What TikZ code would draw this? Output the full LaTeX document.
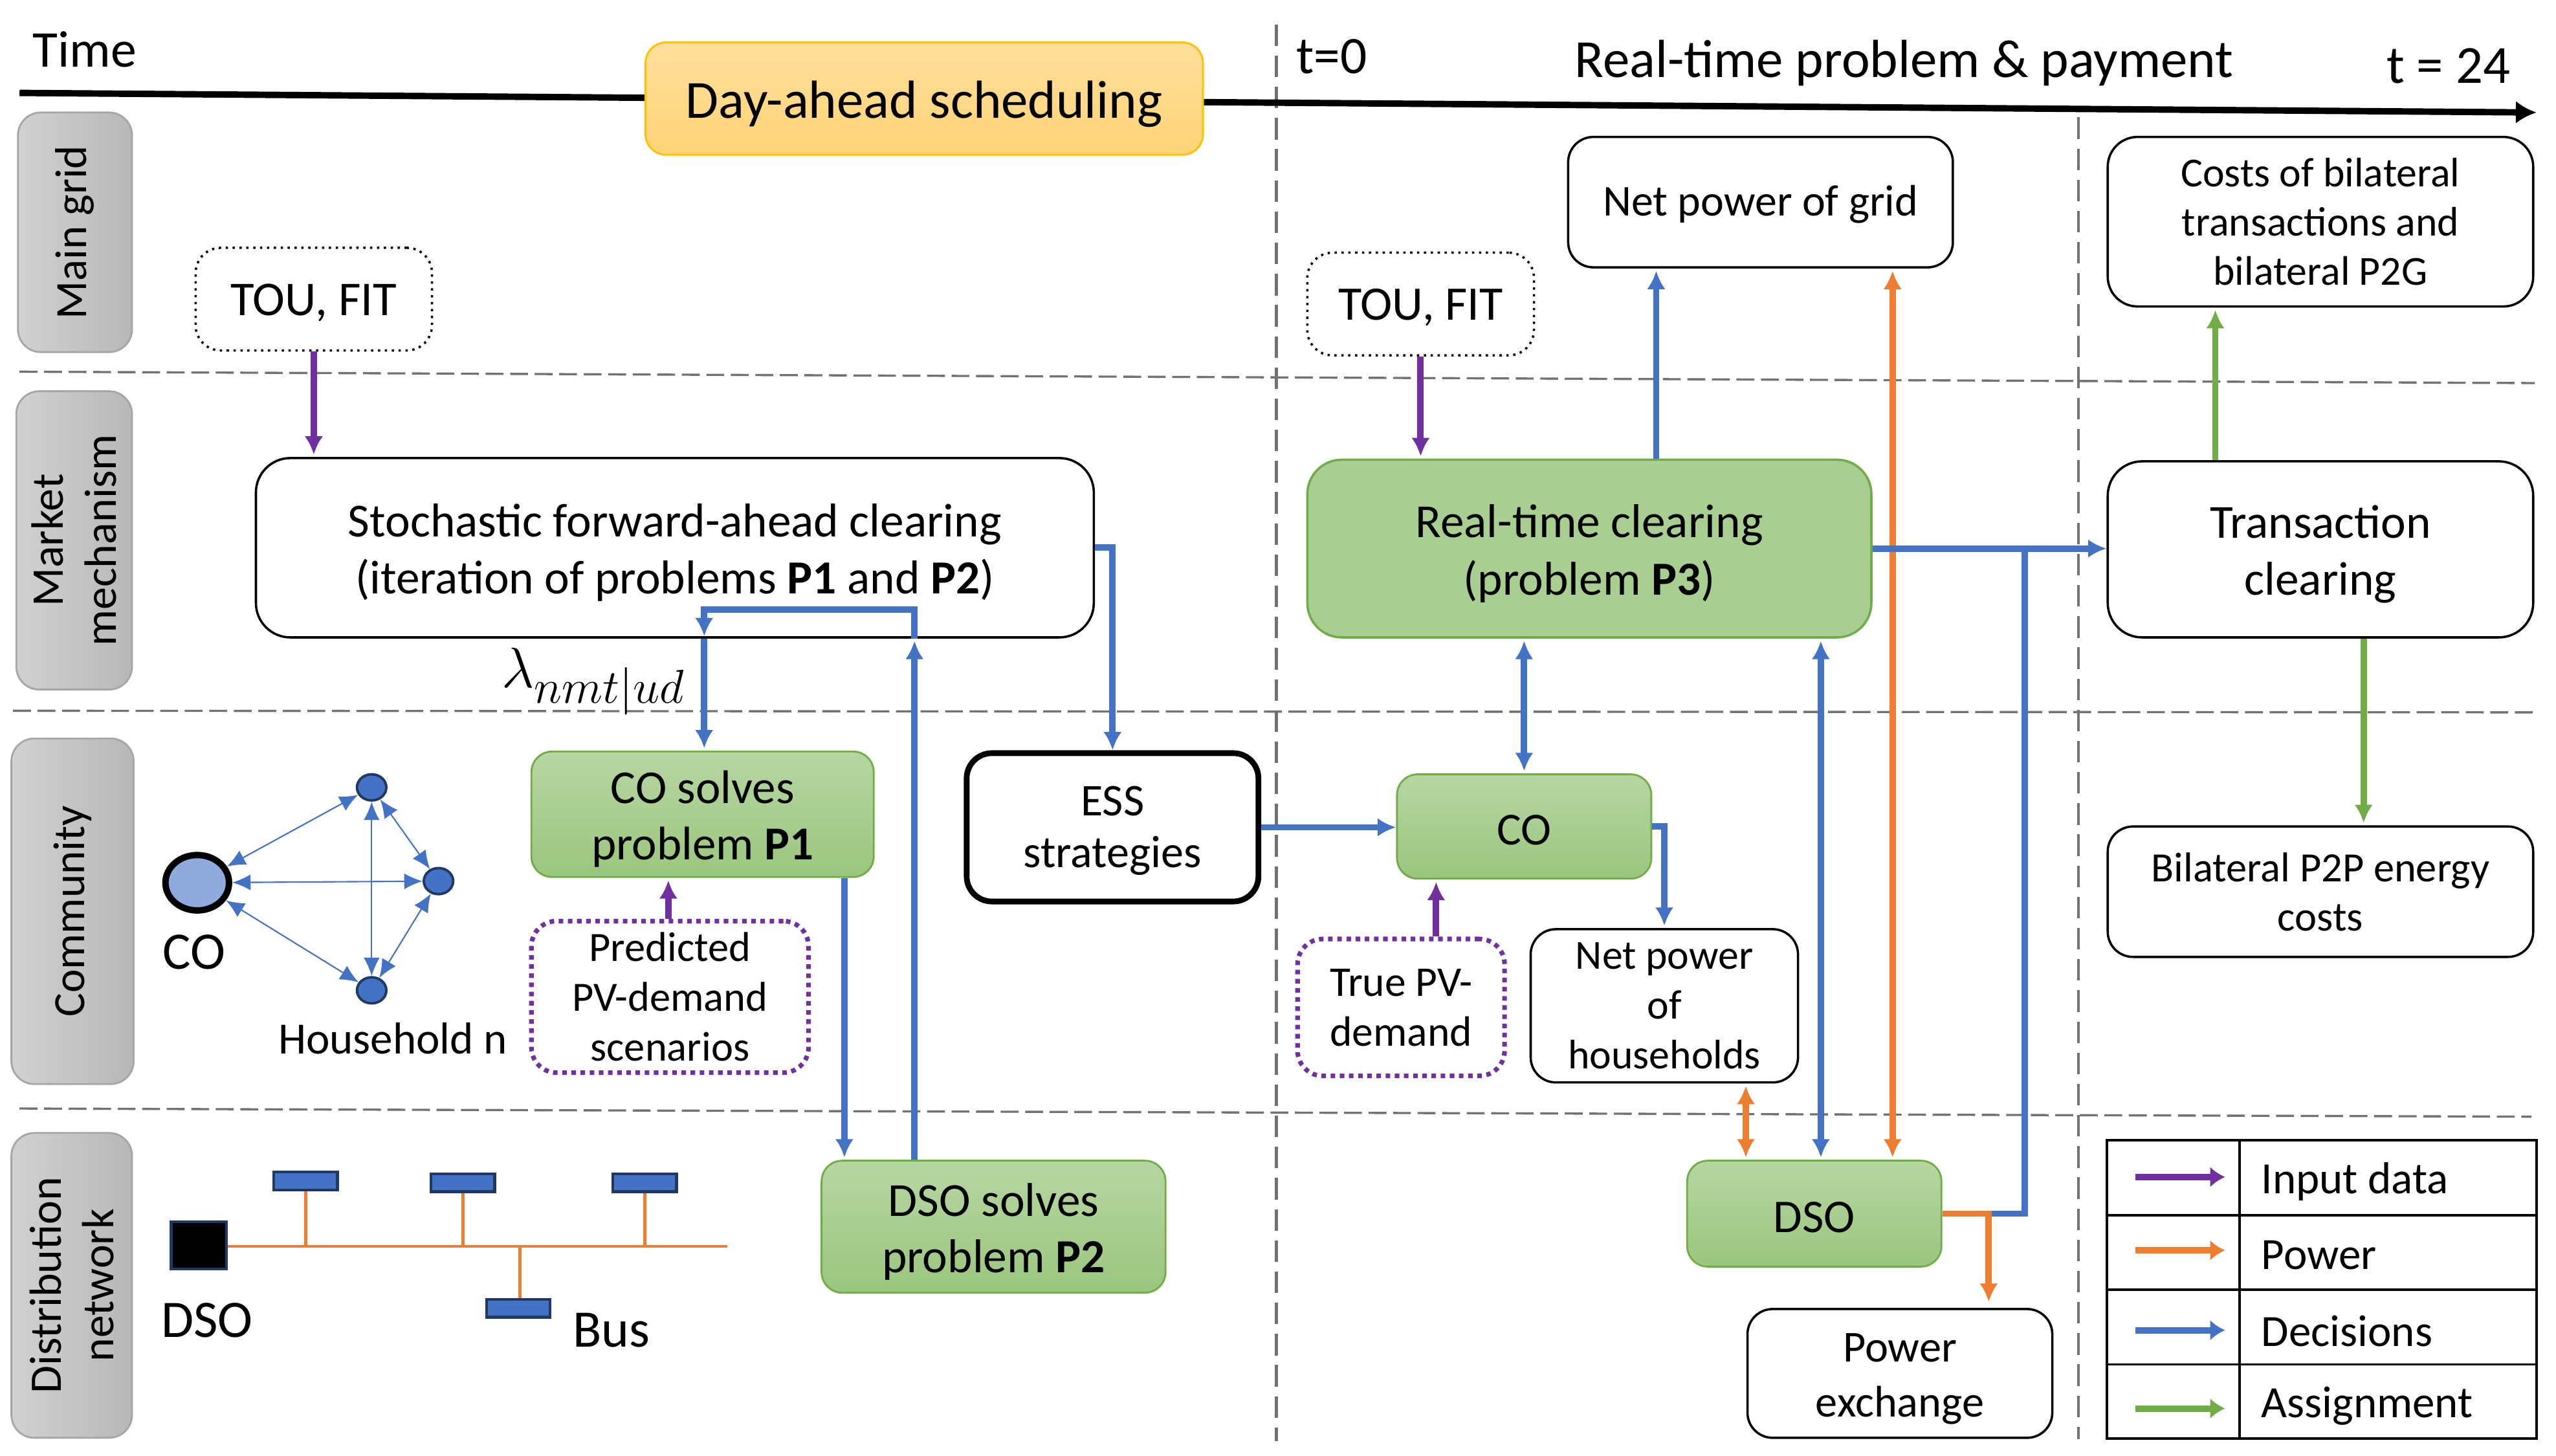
\documentclass[tikz,border=0pt]{standalone}
\usepackage{fontspec}
\usepackage{amsmath}
\setmainfont{Carlito}
\usetikzlibrary{arrows.meta}
\usetikzlibrary{shapes.geometric}
\definecolor{inpurple}{HTML}{7030A0}
\definecolor{poworange}{HTML}{ED7D31}
\definecolor{decblue}{HTML}{4472C4}
\definecolor{asgreen}{HTML}{70AD47}
\definecolor{darkblue}{HTML}{1F3864}
\definecolor{dashgray}{HTML}{767171}
\newcommand{\tp}{\rule{0pt}{0.9em}}
\newcommand{\tq}{\rule{0pt}{0.8em}}
\colorlet{greenT}{asgreen!50!white}
\colorlet{greenB}{asgreen!70!white}
\tikzset{
  wh/.style 2 args={minimum width=#1*0.025cm, minimum height=#2*0.025cm, inner sep=0pt},
  fnt/.style 2 args={font=\fontsize{#1}{#2}\selectfont, align=center},
  plainbox/.style={draw, line width=1pt, rounded corners=11pt, fill=white},
  greenbox/.style={draw=asgreen, line width=0.8pt, rounded corners=9pt, top color=greenT, bottom color=greenB},
  sidebox/.style={draw=black!35, line width=0.8pt, rounded corners=10pt, left color=black!18, right color=black!28, rotate=90},
  dashh/.style={draw=dashgray, line width=0.95pt, dash pattern=on 7.8pt off 2.9pt},
  dashv/.style={draw=dashgray, line width=1.2pt, dash pattern=on 9.4pt off 4.2pt},
  arr/.style={line width=#1, -{Latex[length=8pt,width=8pt]}, shorten >=1pt},
  arr/.default=2.8pt,
  biarr/.style={line width=2.8pt, {Latex[length=8pt,width=8pt]}-{Latex[length=8pt,width=8pt]}, shorten >=1pt, shorten <=1pt},
  bus/.style={draw=darkblue, line width=1.2pt, fill=decblue, wh={39}{11}},
  house/.style={draw=darkblue, line width=1.1pt, fill=decblue, ellipse, wh={18}{16}},
  thinarr/.style={draw=decblue, line width=0.6pt, {Latex[length=8pt,width=7pt]}-{Latex[length=8pt,width=7pt]}},
}
\begin{document}
\begin{tikzpicture}[x=0.025cm, y=-0.025cm]
  \useasboundingbox (0,0) rectangle (1568,892.8);

  \draw[dashh] (12,228) -- (1555,235);
  \draw[dashh] (8,436) -- (1555,437);
  \draw[dashh] (12,680) -- (1553,685);
  \draw[dashv] (783,15) -- (783,884);
  \draw[dashv] (1275,72) -- (1275,883);

  \coordinate (tstart) at (12,57);
  \coordinate (tend) at (1556,69);
  \draw[line width=2.8pt, -{Latex[length=9pt,width=10pt]}] (tstart) -- (tend);

  \node[fnt={22.5}{26}] (timelab) at (52,30.5) {Time};
  \node[fnt={23}{26}] (tzero) at (817,34.5) {t=0};
  \node[fnt={23.4}{27}] (rtlab) at (1168,38.5) {Real-time problem \& payment};
  \node[fnt={23.4}{27}] (tend24) at (1502,40.5) {t = 24};

  \node[draw={rgb,255:red,255;green,192;blue,0}, line width=0.8pt, rounded corners=9pt, top color={rgb,255:red,255;green,223;blue,156}, bottom color={rgb,255:red,255;green,212;blue,120}, wh={342}{69}, fnt={23.4}{27}] (dayahead) at (567,60.5) {\tp Day-ahead scheduling};

  \node[sidebox, wh={147}{70}, fnt={19.5}{23}] (sgrid) at (46,142.5) {Main grid};
  \node[sidebox, wh={183}{71}, fnt={19.8}{23}] (smarket) at (45.5,331.5) {Market\\mechanism};
  \node[sidebox, wh={212}{75}, fnt={19.5}{23}] (scomm) at (44.5,559) {Community};
  \node[sidebox, wh={187}{74}, fnt={19.7}{23}] (sdist) at (44,788.5) {Distribution\\network};

  \node[plainbox, dotted, wh={145}{63}, fnt={21.2}{24}] (toua) at (192.5,183.5) {\tq TOU, FIT};
  \node[plainbox, dotted, wh={139}{63}, fnt={21}{24}] (toub) at (871.5,186.5) {\tq TOU, FIT};
  \node[plainbox, rounded corners=15pt, wh={514}{110}, fnt={20.7}{25}] (stoch) at (414,336) {\tp Stochastic forward-ahead clearing\\(iteration of problems \textbf{P1} and \textbf{P2})};
  \node[plainbox, fill=asgreen!60!white, draw=asgreen, rounded corners=15pt, wh={346}{109}, fnt={20.7}{25}] (rtclear) at (975,336.5) {\tp Real-time clearing\\(problem \textbf{P3})};
  \node[plainbox, wh={236}{80}, fnt={19.2}{24}] (npgrid) at (1080,124) {\tq Net power of grid};
  \node[plainbox, rounded corners=13pt, wh={261}{104}, fnt={18}{21.5}] (costs) at (1423.5,136) {Costs of bilateral\\transactions and\\bilateral P2G};
  \node[plainbox, rounded corners=15pt, wh={261}{108}, fnt={20.7}{25}] (trans) at (1423.5,337) {\tp Transaction\\clearing};
  \node[plainbox, wh={261}{80}, fnt={18.2}{21.5}] (bilat) at (1423.5,547) {Bilateral P2P energy\\costs};

  \node[greenbox, wh={210}{77}, fnt={20.6}{24.5}] (cosolve) at (431,499.5) {\tp CO solves\\problem \textbf{P1}};
  \node[plainbox, draw=inpurple, line width=2pt, dotted, wh={170}{93}, fnt={18.2}{21.8}] (predict) at (411,611.5) {Predicted\\PV-demand\\scenarios};
  \node[plainbox, line width=2.5pt, wh={179}{91}, fnt={19.8}{22.5}] (ess) at (682.5,507.5) {\tq ESS\\strategies};
  \node[greenbox, wh={156}{64}, fnt={20}{24}] (cobox) at (935,507) {\tq CO};
  \node[plainbox, draw=inpurple, line width=2pt, dotted, wh={127}{84}, fnt={18.5}{21.8}] (truepv) at (859.5,618) {True PV-\\demand};
  \node[plainbox, wh={164}{94}, fnt={18}{21.8}] (nphouse) at (1021,617) {Net power\\of\\households};
  \node[greenbox, wh={156}{65}, fnt={20.5}{24}] (dsobox) at (1113,744.5) {\tq DSO};
  \node[greenbox, wh={211}{81}, fnt={20.7}{24.5}] (dsosolve) at (609.5,752.5) {\tp DSO solves\\problem \textbf{P2}};
  \node[plainbox, wh={187}{79}, fnt={19.3}{24}] (pexch) at (1165.5,842.5) {\tp Power\\exchange};

  \node[fnt={27.5}{30}] (lam) at (364,418) {$\lambda_{nmt|ud}$};

  \draw[arr, inpurple] (toua.south) -- (toua.south |- stoch.north);
  \draw[arr, inpurple] (toub.south) -- (toub.south |- rtclear.north);
  \draw[arr, inpurple] (predict.north -| 410,0) -- (cosolve.south -| 410,0);
  \draw[arr, inpurple] (truepv.north -| 881,0) -- (cobox.south -| 881,0);

  \draw[arr, decblue] (rtclear.north -| 1016,0) -- (npgrid.south -| 1016,0);
  \draw[biarr, poworange] (dsobox.north -| 1161,0) -- (npgrid.south -| 1161,0);
  \draw[biarr, decblue] (dsobox.north -| 1117,0) -- (rtclear.south -| 1117,0);
  \draw[biarr, decblue] (rtclear.south -| 935,0) -- (cobox.north);
  \draw[biarr, poworange] (nphouse.south -| 1071,0) -- (dsobox.north -| 1071,0);
  \draw[decblue, line width=2.8pt] (dsobox.east) -- (1242,744.5) -- (1242,336);
  \draw[arr, decblue, shorten >=0pt] (rtclear.east) -- (trans.west |- rtclear.east);
  \draw[arr, poworange] (dsobox.east) -| (1220,800);
  \draw[arr, asgreen] (trans.north -| 1359,0) -- (costs.south -| 1359,0);
  \draw[arr, asgreen] (trans.south -| 1450,0) -- (bilat.north -| 1450,0);

  \draw[arr, decblue, shorten >=0pt] (stoch.east) -| (ess.north);
  \draw[arr, decblue, shorten >=0pt] (ess.east) -- (cobox.west |- ess.east);
  \draw[arr, decblue] (cobox.east) -| (nphouse.north);
  \draw[arr, decblue] (cosolve.south -| 518,0) -- (dsosolve.north -| 518,0);
  \draw[arr, decblue] (dsosolve.north -| 561,0) -- (stoch.south -| 561,0);
  \draw[arr, decblue] (stoch.south -| 561,0) -- (561,374) -- (432,374) -- (stoch.south -| 432,0);
  \draw[arr, decblue] (stoch.south -| 432,0) -- (cosolve.north -| 432,0);

  \node[draw, ellipse, line width=2.8pt, fill={rgb,255:red,143;green,170;blue,220}, wh={39}{34}] (coc) at (121,541.5) {};
  \node[house] (ha) at (228,483) {};
  \node[house] (hb) at (269,540.5) {};
  \node[house] (hc) at (228,607.5) {};
  \draw[thinarr] (coc) -- (ha);
  \draw[thinarr] (coc) -- (hb);
  \draw[thinarr] (coc) -- (hc);
  \draw[thinarr] (ha) -- (hc);
  \draw[thinarr] (ha) -- (hb);
  \draw[thinarr] (hb) -- (hc);
  \node[fnt={23}{26}] (colab) at (119,584) {CO};
  \node[fnt={19.5}{24}] (hlab) at (241,637) {Household n};

  \node[draw=darkblue, line width=1.2pt, fill=black, wh={34}{29}] (dsosq) at (122,764) {};
  \coordinate (busend) at (446,764.5);
  \node[bus] (busa) at (187.5,724.5) {};
  \node[bus] (busb) at (284,725.5) {};
  \node[bus] (busc) at (395.5,725.5) {};
  \node[bus] (busd) at (318,802.5) {};
  \draw[poworange, line width=1.3pt] (dsosq.east |- busend) -- (busend);
  \draw[poworange, line width=1.3pt] (busa.south) -- (busa.south |- busend);
  \draw[poworange, line width=1.3pt] (busb.south) -- (busb.south |- busend);
  \draw[poworange, line width=1.3pt] (busc.south) -- (busc.south |- busend);
  \draw[poworange, line width=1.3pt] (busd.north -| 319,0) -- (busend -| 319,0);
  \node[fnt={23}{26}] (dsolab) at (127,810) {DSO};
  \node[fnt={23}{26}] (buslab) at (375,816) {Bus};

  \draw[line width=1.1pt] (1292.5,699.5) rectangle (1556,882.5);
  \draw[line width=1.1pt] (1374,699.5) -- (1374,882.5);
  \draw[line width=1.1pt] (1292.5,745.5) -- (1556,745.5);
  \draw[line width=1.1pt] (1292.5,791) -- (1556,791);
  \draw[line width=1.1pt] (1292.5,837) -- (1556,837);
  \foreach \yy/\yt/\col/\txt in {722/725/inpurple/Input data, 767/770/poworange/Power, 816/816.5/decblue/Decisions, 864/862.5/asgreen/Assignment} {
    \coordinate (legs\yy) at (1310,\yy);
    \coordinate (lege\yy) at (1365,\yy);
    \draw[line width=2.8pt, \col, -{Latex[length=6.5pt,width=9pt]}] (legs\yy) -- (lege\yy);
    \node[fnt={19.5}{24}, anchor=west, inner sep=0pt] (leg\yy) at (1387,\yt) {\txt};
  }
\end{tikzpicture}
\end{document}
